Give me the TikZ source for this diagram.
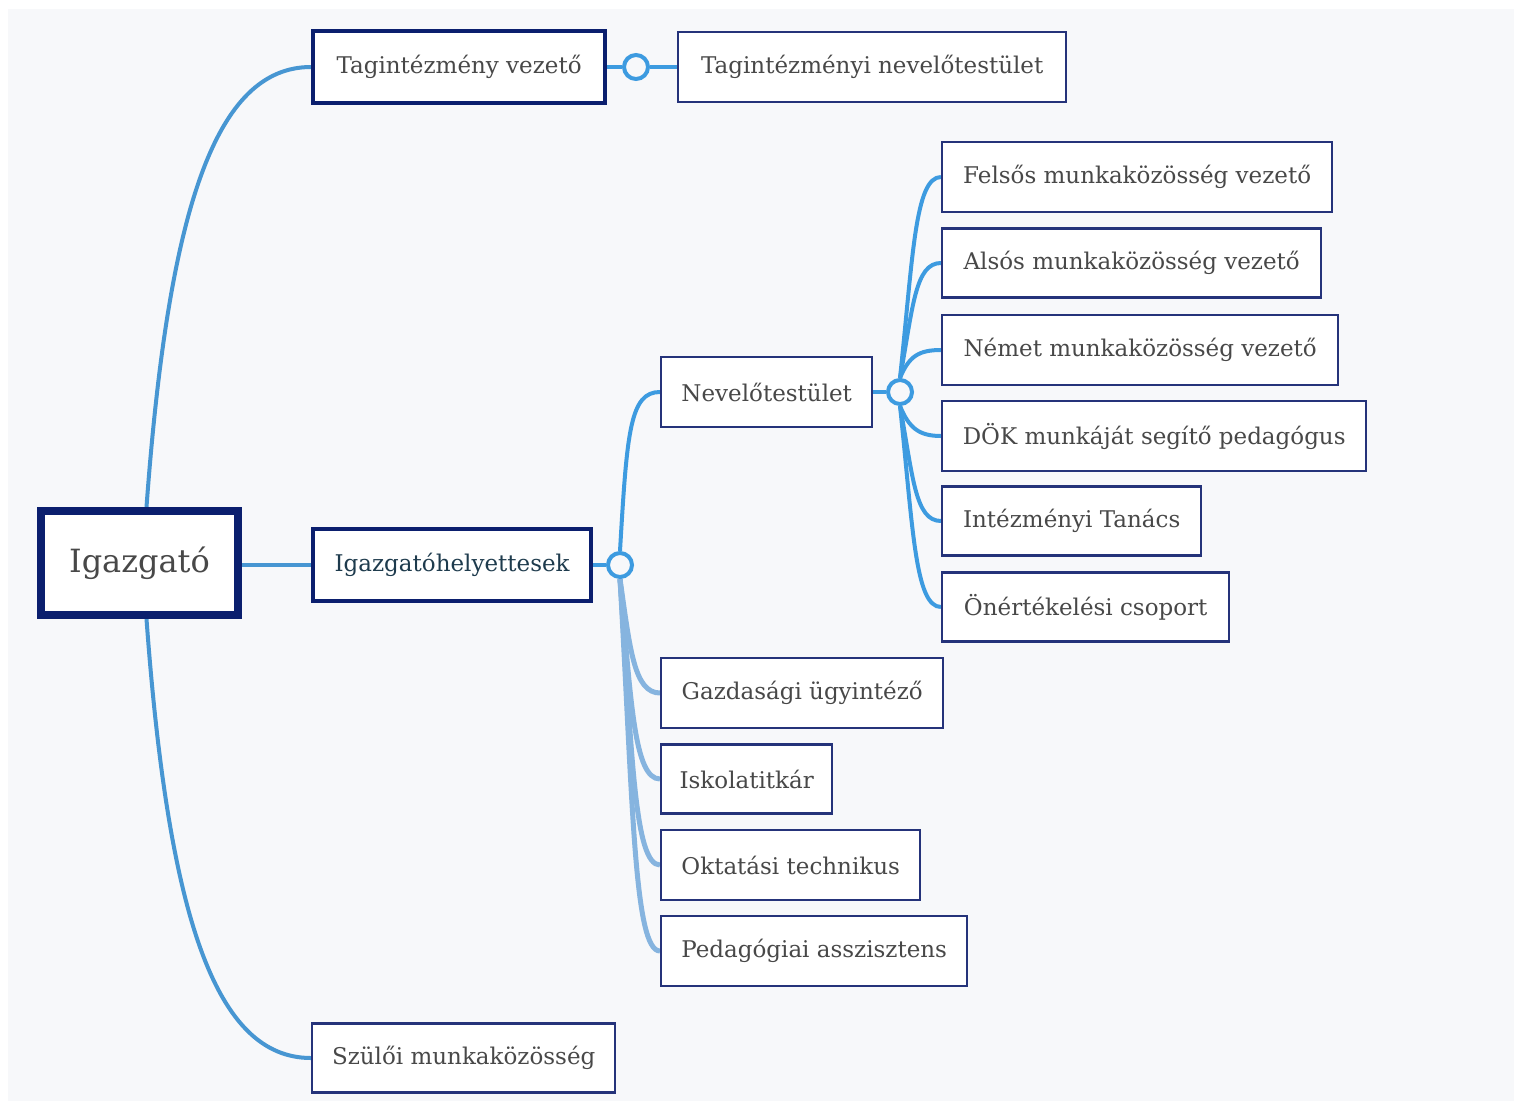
\documentclass[tikz,border=0pt]{standalone}
\usepackage{fontspec}
\newfontfamily\boxfont{DejaVu Serif}
\definecolor{bgc}{HTML}{F7F8FA}
\definecolor{navy}{HTML}{0B1F6E}
\definecolor{boxc}{HTML}{25337A}
\definecolor{txt}{HTML}{484848}
\definecolor{txtdark}{HTML}{1E3B4D}
\definecolor{conna}{HTML}{4796D2}
\definecolor{connb}{HTML}{3D9BE0}
\definecolor{connc}{HTML}{86B4DF}
\pgfdeclarelayer{bglayer}
\pgfdeclarelayer{linelayer}
\pgfsetlayers{bglayer,linelayer,main}
\tikzset{
  box/.style={draw=boxc, fill=white, line width=2.4pt, inner xsep=4pt, inner ysep=0pt,
    align=center, anchor=west, text=txt, font={\boxfont\fontsize{23pt}{27pt}\selectfont}},
  heavybox/.style={box, draw=navy, line width=4.2pt},
  circ/.style={circle, draw=connb, fill=bgc, line width=4pt, minimum size=24pt, inner sep=0pt},
  conn/.style={draw=conna, line width=4pt},
  connup/.style={draw=connb, line width=4pt},
  connlow/.style={draw=connc, line width=5pt},
}
\begin{document}
\begin{tikzpicture}[x=1pt,y=-1pt]
\useasboundingbox (0,0) rectangle (1514,1101);
\begin{pgfonlayer}{bglayer}
\fill[white] (0,0) rectangle (1514,1101);
\fill[bgc] (8,9) rectangle (1514,1101);
\end{pgfonlayer}

\node[box, draw=navy, line width=8pt, minimum width=197pt, minimum height=104pt,
      font={\boxfont\fontsize{32pt}{38pt}\selectfont}] (igaz) at (37,563) {Igazgató};
\node[heavybox, minimum width=292pt, minimum height=72pt] (tagv) at (311,67) {Tagintézmény vezető};
\node[box, minimum width=388pt, minimum height=70pt] (tagn) at (677,67) {Tagintézményi nevelőtestület};
\node[heavybox, minimum width=278pt, minimum height=72pt, text=txtdark] (igh) at (311,565) {Igazgatóhelyettesek};
\node[box, minimum width=211pt, minimum height=70pt] (nev) at (660,392) {Nevelőtestület};

\node[box, minimum width=390pt, minimum height=70pt] (fel) at (941,177) {Felsős munkaközösség vezető};
\node[box, minimum width=379pt, minimum height=69pt] (als) at (941,263) {Alsós munkaközösség vezető};
\node[box, minimum width=396pt, minimum height=70pt] (nem) at (941,350) {Német munkaközösség vezető};
\node[box, minimum width=424pt, minimum height=70pt] (dok) at (941,436) {DÖK munkáját segítő pedagógus};
\node[box, minimum width=259pt, minimum height=69pt] (int) at (941,521) {Intézményi Tanács};
\node[box, minimum width=287pt, minimum height=69pt] (one) at (941,607) {Önértékelési csoport};

\node[box, minimum width=282pt, minimum height=70pt] (gaz) at (660,693) {Gazdasági ügyintéző};
\node[box, minimum width=171pt, minimum height=69pt] (isk) at (660,779) {Iskolatitkár};
\node[box, minimum width=259pt, minimum height=70pt] (okt) at (660,865) {Oktatási technikus};
\node[box, minimum width=306pt, minimum height=70pt] (ped) at (660,951) {Pedagógiai asszisztens};

\node[box, minimum width=303pt, minimum height=69pt] (szul) at (311,1058) {Szülői munkaközösség};

\node[circ] (c0) at (636,67) {};
\node[circ] (c1) at (620,565) {};
\node[circ] (c2) at (900,392) {};

\begin{pgfonlayer}{linelayer}
% Igazgató connectors
\draw[conn] ([xshift=7pt]igaz.north) .. controls +(22,-300) and +(-95,0) .. (tagv.west);
\draw[conn] ([xshift=7pt]igaz.south) .. controls +(22,300) and +(-95,0) .. (szul.west);
\draw[conn] (igaz.east |- igh.west) -- (igh.west);

% Tagintézmény
\draw[connup] (tagv.east) -- (c0.west);
\draw[connup] (c0.east) -- (tagn.west);

% Igazgatóhelyettesek
\draw[connup] (igh.east) -- (c1.west);
\draw[connup] (c1.north) .. controls +(7,-120) and +(-30,0) .. (nev.west);
\draw[connlow] (c1.south) .. controls +(10,70) and +(-26,0) .. (gaz.west);
\draw[connlow] (c1.south) .. controls +(11,122) and +(-26,0) .. (isk.west);
\draw[connlow] (c1.south) .. controls +(12,173) and +(-26,0) .. (okt.west);
\draw[connlow] (c1.south) .. controls +(13,225) and +(-26,0) .. (ped.west);

% Nevelőtestület
\draw[connup] (nev.east) -- (c2.west);
\draw[connup] (c2.north) .. controls +(13,-122) and +(-26,0) .. (fel.west);
\draw[connup] (c2.north) .. controls +(13,-71) and +(-26,0) .. (als.west);
\draw[connup] (c2.north) .. controls +(9,-22) and +(-22,0) .. (nem.west);
\draw[connup] (c2.south) .. controls +(9,22) and +(-22,0) .. (dok.west);
\draw[connup] (c2.south) .. controls +(13,71) and +(-26,0) .. (int.west);
\draw[connup] (c2.south) .. controls +(13,122) and +(-26,0) .. (one.west);
\end{pgfonlayer}
\end{tikzpicture}
\end{document}
